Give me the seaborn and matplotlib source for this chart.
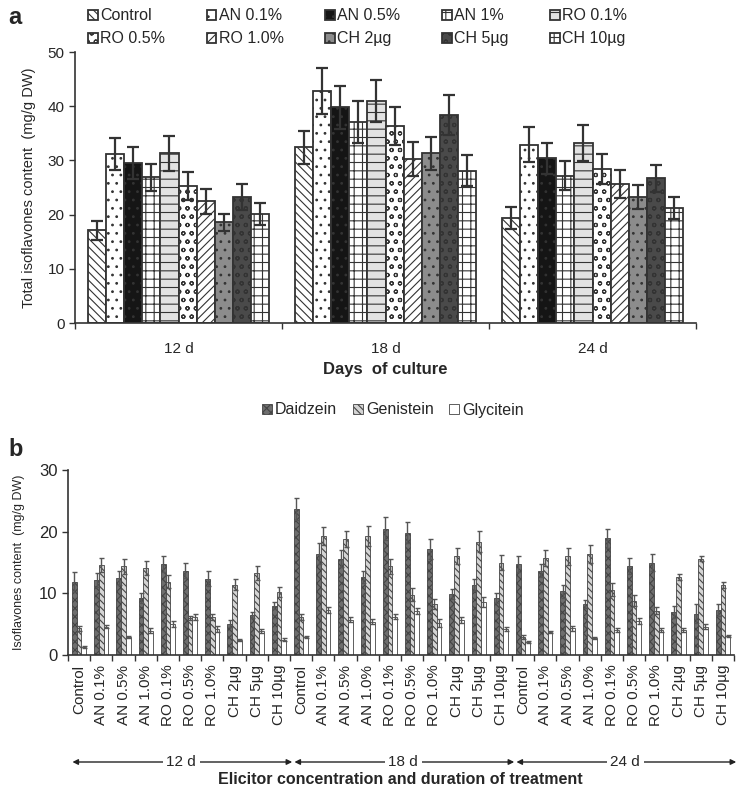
import numpy as np
import pandas as pd
import seaborn as sns
import matplotlib.pyplot as plt
from matplotlib import font_manager

sns.set_theme(style="white")
installed = {f.name for f in font_manager.fontManager.ttflist}
narrow = "Liberation Sans Narrow" if "Liberation Sans Narrow" in installed else "Liberation Sans"
plt.rcParams["font.family"] = ["Liberation Sans", "DejaVu Sans"]
plt.rcParams["hatch.linewidth"] = 0.8

# ---- panel a data: total isoflavones (mg/g DW) ----
days = ["12 d", "18 d", "24 d"]
treatments_a = ["Control", "AN 0.1%", "AN 0.5%", "AN 1%", "RO 0.1%",
                "RO 0.5%", "RO 1.0%", "CH 2µg", "CH 5µg", "CH 10µg"]
total_12 = [17.1, 31.2, 29.5, 26.9, 31.3, 25.3, 22.5, 18.6, 23.2, 20.1]
total_18 = [32.4, 42.8, 39.8, 37.1, 41.0, 36.4, 30.3, 31.3, 38.3, 28.1]
total_24 = [19.4, 32.9, 30.4, 27.2, 33.2, 28.4, 25.7, 23.3, 26.7, 21.2]
err_12 = [1.7, 3.0, 2.9, 2.5, 3.2, 2.6, 2.3, 1.6, 2.4, 2.1]
err_18 = [3.0, 4.2, 4.0, 3.8, 3.9, 3.5, 3.1, 3.0, 3.7, 2.9]
err_24 = [2.0, 3.2, 2.9, 2.7, 3.4, 2.8, 2.6, 2.2, 2.5, 2.1]

# ---- panel b data: individual isoflavones (mg/g DW) ----
treatments_b = ["Control", "AN 0.1%", "AN 0.5%", "AN 1.0%", "RO 0.1%",
                "RO 0.5%", "RO 1.0%", "CH 2µg", "CH 5µg", "CH 10µg"]
compounds = ["Daidzein", "Genistein", "Glycitein"]
daid_12 = [11.8, 12.2, 12.5, 9.2, 14.8, 13.7, 12.4, 5.1, 6.5, 8.0]
gen_12 = [4.3, 14.6, 14.4, 14.1, 11.9, 6.0, 6.1, 11.4, 13.3, 10.2]
gly_12 = [1.3, 4.6, 2.9, 3.9, 5.0, 6.2, 4.2, 2.4, 3.9, 2.5]
daid_18 = [23.7, 16.4, 15.6, 12.6, 20.5, 19.8, 17.2, 9.9, 11.4, 9.2]
gen_18 = [6.1, 19.3, 18.8, 19.3, 14.4, 9.8, 8.3, 16.0, 18.4, 15.0]
gly_18 = [2.9, 7.3, 5.7, 5.4, 6.2, 7.2, 5.2, 5.7, 8.6, 4.2]
daid_24 = [14.8, 13.7, 10.3, 8.3, 18.9, 14.5, 15.0, 7.0, 6.7, 7.3]
gen_24 = [2.9, 15.8, 16.0, 16.4, 10.6, 8.8, 7.2, 12.7, 15.6, 11.3]
gly_24 = [2.1, 3.7, 4.3, 2.8, 4.1, 5.5, 4.0, 4.0, 4.6, 3.1]
daid_err = [1.6, 1.1, 1.2, 0.8, 1.3, 1.2, 1.2, 0.5, 0.5, 0.6,
            1.8, 1.7, 1.4, 1.0, 1.8, 1.7, 1.6, 0.8, 1.0, 0.8,
            1.3, 1.0, 1.0, 0.6, 1.6, 1.3, 1.3, 1.0, 1.5, 1.0]
gen_err = [0.4, 1.2, 1.2, 1.2, 1.0, 0.4, 0.5, 0.9, 1.1, 0.8,
           0.5, 1.5, 1.3, 1.6, 1.2, 1.0, 0.8, 1.3, 1.7, 1.2,
           0.3, 1.3, 1.4, 1.4, 1.1, 0.9, 0.6, 0.5, 0.4, 0.5]
gly_err = [0.2, 0.3, 0.2, 0.4, 0.5, 0.5, 0.5, 0.2, 0.3, 0.2,
           0.2, 0.5, 0.4, 0.4, 0.4, 0.5, 0.6, 0.5, 0.8, 0.3,
           0.2, 0.2, 0.4, 0.2, 0.3, 0.5, 0.3, 0.3, 0.4, 0.2]

# bar fill styles (face, hatch, hatch colour)
styles_a = [("white", "\\\\\\\\", "#222222"),
            ("white", "..", "#9a9a9a"),
            ("#151515", "..", "#777777"),
            ("white", "++", "#333333"),
            ("#e2e2e2", "--", "#555555"),
            ("white", "oo", "#000000"),
            ("white", "////", "#8a8a8a"),
            ("#8c8c8c", "..", "#6a6a6a"),
            ("#4a4a4a", "oo", "#d0d0d0"),
            ("white", "++", "#a8a8a8")]
styles_b = [("#6e6e6e", "xxxx", "#2a2a2a"),
            ("#d4d4d4", "\\\\\\\\\\", "#555555"),
            ("white", "", "#444444")]


def paint(patch, face, hatch, hcol, edge, lw):
    patch.set_facecolor(face)
    patch.set_edgecolor(edge)
    patch.set_linewidth(lw)
    patch.set_hatch(hatch)
    try:
        patch.set_hatchcolor(hcol)
    except AttributeError:
        pass


fig = plt.figure(figsize=(7.53, 7.87), dpi=100)

# ================= panel a =================
ax_a = fig.add_axes([75 / 753, 1 - 323 / 787, 621 / 753, 271 / 787])
rows = []
for d, vals in zip(days, [total_12, total_18, total_24]):
    for t, v in zip(treatments_a, vals):
        rows.append({"day": d, "treatment": t, "total": v})
df_a = pd.DataFrame(rows)
sns.barplot(data=df_a, x="day", y="total", hue="treatment", order=days,
            hue_order=treatments_a, errorbar=None, width=0.875, gap=0,
            legend=False, ax=ax_a)
bars_a = list(ax_a.containers)
errs_a = [err_12, err_18, err_24]
for i, cont in enumerate(bars_a):
    face, hatch, hcol = styles_a[i]
    xs, ys, es = [], [], []
    for j, bar in enumerate(cont.patches):
        paint(bar, face, hatch, hcol, "#333333", 1.3)
        xs.append(bar.get_x() + bar.get_width() / 2)
        ys.append(bar.get_height())
        es.append(errs_a[j][i])
    ax_a.errorbar(xs, ys, yerr=es, fmt="none", ecolor="#333333",
                  elinewidth=1.6, capsize=4, capthick=1.6, zorder=5)

ax_a.set_ylim(0, 50)
ax_a.set_xlim(-0.5, 2.5)
ax_a.set_yticks([0, 10, 20, 30, 40, 50])
ax_a.set_yticklabels([str(v) for v in [0, 10, 20, 30, 40, 50]], family=narrow, fontsize=11)
ax_a.set_xticks(np.arange(-0.5, 3, 1), minor=True)
ax_a.tick_params(axis="x", which="major", length=0, labelsize=11, pad=14)
ax_a.tick_params(axis="x", which="minor", length=4, width=1, color="#333333", bottom=True)
ax_a.tick_params(axis="y", length=4, width=1, color="#333333", left=True)
for lab in ax_a.get_xticklabels():
    lab.set_family(narrow)
ax_a.set_xlabel("Days  of culture", family=narrow, fontsize=12, fontweight="bold", labelpad=4)
ax_a.set_ylabel("Total isoflavones content  (mg/g DW)", family=narrow, fontsize=10.5, labelpad=8)
sns.despine(ax=ax_a)
for s in ["left", "bottom"]:
    ax_a.spines[s].set_color("#333333")
    ax_a.spines[s].set_linewidth(1.2)

hand_a = [c.patches[0] for c in bars_a]
order = [0, 5, 1, 6, 2, 7, 3, 8, 4, 9]
fig.legend([hand_a[k] for k in order], [treatments_a[k] for k in order],
           ncol=5, loc="upper left", bbox_to_anchor=(82 / 753, 1 - 2 / 787),
           frameon=False, prop={"family": narrow, "size": 11.5},
           handlelength=0.6, handleheight=0.6, handletextpad=0.15,
           columnspacing=2.6, labelspacing=0.5, borderaxespad=0)

fig.text(8 / 753, 1 - 6 / 787, "a", fontsize=17, fontweight="bold", va="top")

# ================= panel b =================
ax_b = fig.add_axes([68 / 753, 1 - 655 / 787, 666 / 753, 185 / 787])
keys = [f"{d} {t}" for d in days for t in treatments_b]
rows = []
series = {"Daidzein": daid_12 + daid_18 + daid_24,
          "Genistein": gen_12 + gen_18 + gen_24,
          "Glycitein": gly_12 + gly_18 + gly_24}
for c in compounds:
    for k, v in zip(keys, series[c]):
        rows.append({"sample": k, "compound": c, "content": v})
df_b = pd.DataFrame(rows)
sns.barplot(data=df_b, x="sample", y="content", hue="compound", order=keys,
            hue_order=compounds, errorbar=None, width=0.64, gap=0,
            legend=False, ax=ax_b)
bars_b = list(ax_b.containers)
errs_b = [daid_err, gen_err, gly_err]
for i, cont in enumerate(bars_b):
    face, hatch, hcol = styles_b[i]
    xs, ys = [], []
    for bar in cont.patches:
        paint(bar, face, hatch, hcol, "#444444", 0.6)
        xs.append(bar.get_x() + bar.get_width() / 2)
        ys.append(bar.get_height())
    ax_b.errorbar(xs, ys, yerr=errs_b[i], fmt="none", ecolor="#555555",
                  elinewidth=1.0, capsize=1.8, capthick=1.0, zorder=5)

ax_b.set_ylim(0, 30)
ax_b.set_xlim(-0.5, len(keys) - 0.5)
ax_b.set_yticks([0, 10, 20, 30])
ax_b.tick_params(axis="y", labelsize=12, length=4, width=1, color="#333333", left=True)
ax_b.set_xticks(range(len(keys)))
ax_b.set_xticklabels(treatments_b * 3, rotation=90, fontsize=11)
ax_b.set_xticks(np.arange(-0.5, len(keys), 1), minor=True)
ax_b.tick_params(axis="x", which="major", length=0, pad=7)
ax_b.tick_params(axis="x", which="minor", length=4, width=1, color="#333333", bottom=True)
ax_b.set_xlabel("")
ax_b.set_ylabel("Isoflavones content  (mg/g DW)", family=narrow, fontsize=9, labelpad=10)
sns.despine(ax=ax_b)
for s in ["left", "bottom"]:
    ax_b.spines[s].set_color("#333333")
    ax_b.spines[s].set_linewidth(1.2)

hand_b = [c.patches[0] for c in bars_b]
fig.legend(hand_b, compounds, ncol=3, loc="center",
           bbox_to_anchor=(393 / 753, 1 - 410 / 787), frameon=False,
           prop={"family": narrow, "size": 11.5}, handlelength=0.6,
           handleheight=0.6, handletextpad=0.2, columnspacing=1.0)

fig.text(8 / 753, 1 - 438 / 787, "b", fontsize=17, fontweight="bold", va="top")

# day arrows under the tick labels
arrow_y = 1 - 762 / 787
for k, d in enumerate(days):
    ax_b.annotate("", xy=(9.6 + 10 * k, arrow_y), xytext=(-0.3 + 10 * k, arrow_y),
                  xycoords=("data", "figure fraction"), textcoords=("data", "figure fraction"),
                  arrowprops=dict(arrowstyle="<|-|>", color="#222222", lw=1.0,
                                  mutation_scale=8, shrinkA=0, shrinkB=0),
                  annotation_clip=False)
    ax_b.annotate(d, xy=(4.6 + 10 * k, arrow_y), xycoords=("data", "figure fraction"),
                  ha="center", va="center", fontsize=11, family=narrow,
                  bbox=dict(boxstyle="square,pad=0.25", fc="white", ec="none"),
                  annotation_clip=False)

fig.text(400 / 753, 1 - 779 / 787, "Elicitor concentration and duration of treatment",
         ha="center", va="center", fontsize=11.5, fontweight="bold", family=narrow)

fig.savefig("out.png", dpi=100)
